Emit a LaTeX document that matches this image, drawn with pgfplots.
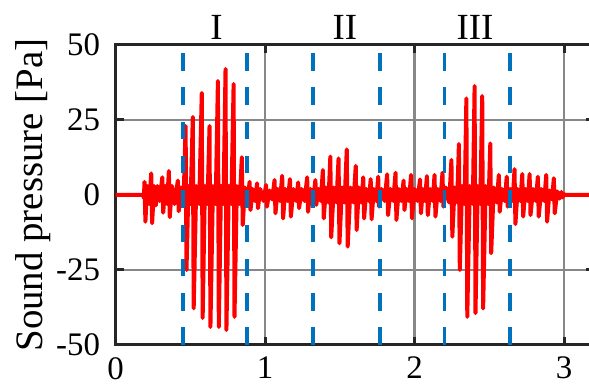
\documentclass[border=0pt]{standalone}
\usepackage{fontspec}
\setmainfont{Liberation Serif}
\usepackage{pgfplots}
\pgfplotsset{compat=1.18}
\definecolor{mblue}{RGB}{0,114,189}
\definecolor{axgray}{RGB}{38,38,38}
\definecolor{gridgray}{RGB}{135,135,135}
\begin{document}
\begin{tikzpicture}
\path[use as bounding box] (0,0) rectangle (589bp,388bp);
\clip (0,0) rectangle (589bp,388bp);
\begin{axis}[
 at={(115.5bp,43bp)}, anchor=south west,
 scale only axis, width=478.4bp, height=300bp,
 xmin=0, xmax=3.2, ymin=-50, ymax=50,
 xtick={0,1,2,3}, ytick={-50,-25,0,25,50},
 xticklabels={0,1,2,3}, yticklabels={-50,-25,0,25,50},
 tick align=inside, major tick length=8bp,
 grid=major, major grid style={gridgray, line width=2.2bp},
 axis line style={axgray, line width=3bp},
 major tick style={axgray, line width=3bp},
 tick label style={font=\fontsize{33}{38}\selectfont, text=black},
 x tick label style={yshift=-11bp, inner sep=1bp},
 y tick label style={xshift=-12bp},
 ylabel={Sound pressure [Pa]},
 ylabel style={font=\fontsize{39}{44}\selectfont, at={(axis description cs:-0.172,0.5)}, anchor=center},
 clip=false,
 /pgf/number format/assume math mode=true,
]
\addplot[red, line width=4bp, line join=round] coordinates {
(0,0) (0.185,0) (0.19,-1)
(0.194,4.4) (0.200,-8.9) (0.212,3) (0.225,-3)
(0.239,7.2) (0.245,-9.4) (0.258,3) (0.270,-3.5) (0.280,3) (0.295,-2)
(0.313,5.9) (0.319,-5.9) (0.333,3) (0.345,-3)
(0.357,8) (0.363,-7.4) (0.378,3) (0.395,-3)
(0.417,4.8) (0.423,-5.4) (0.438,2.5) (0.455,-2.5)
(0.469,23) (0.475,-25) (0.488,3) (0.502,-3)
(0.517,26) (0.523,-37.8) (0.540,3) (0.560,-3)
(0.577,34) (0.583,-41) (0.598,3) (0.615,-3)
(0.629,23) (0.635,-44) (0.652,3) (0.670,-3)
(0.685,38) (0.691,-44) (0.706,3) (0.722,-3)
(0.736,42) (0.742,-45) (0.758,3) (0.775,-3)
(0.790,37) (0.796,-40.6) (0.812,3) (0.830,-3)
(0.845,12.6) (0.851,-10) (0.866,2.5) (0.882,-2.5)
(0.897,4.4) (0.903,-5) (0.918,2) (0.933,-2)
(0.947,3.9) (0.953,-4.4) (0.968,2) (0.990,-2)
(1.007,3.3) (1.013,-3.9) (1.030,1.5) (1.048,-1.5)
(1.064,5) (1.070,-6.1) (1.085,2) (1.100,-2)
(1.115,6.4) (1.121,-7.8) (1.136,2) (1.152,-2)
(1.167,5.3) (1.173,-7.2) (1.190,2) (1.208,-2)
(1.222,4.2) (1.228,-4.4) (1.245,2) (1.265,-2)
(1.282,5.9) (1.288,-5.6) (1.305,2) (1.322,-2)
(1.337,5) (1.343,-3.3) (1.358,2) (1.373,-2)
(1.387,8.3) (1.393,-7.8) (1.408,2.5) (1.424,-2.5)
(1.437,12.8) (1.443,-14.1) (1.460,2.5) (1.478,-2.5)
(1.492,12.2) (1.498,-16.1) (1.515,2.5) (1.532,-2.5)
(1.547,15.2) (1.553,-17.2) (1.572,2.5) (1.592,-2.5)
(1.607,9.7) (1.613,-11.7) (1.628,2.5) (1.645,-2.5)
(1.657,5.9) (1.663,-7.8) (1.678,2) (1.695,-2)
(1.707,5.3) (1.713,-8.1) (1.728,2) (1.745,-2)
(1.757,6.1) (1.763,-3.9) (1.780,2) (1.800,-2)
(1.817,6.9) (1.823,-6.7) (1.840,2) (1.858,-2)
(1.873,7.4) (1.879,-8.3) (1.895,2) (1.912,-2)
(1.927,4.8) (1.933,-5) (1.948,2) (1.963,-2)
(1.977,6.7) (1.983,-7.8) (2.000,2) (2.020,-2)
(2.037,5.2) (2.043,-6.1) (2.056,2) (2.070,-2)
(2.083,6.3) (2.089,-6.7) (2.105,2) (2.122,-2)
(2.134,6.7) (2.140,-7.2) (2.156,2) (2.173,-2)
(2.187,7.4) (2.193,-3.9) (2.210,2.5) (2.232,-2.5)
(2.247,11.7) (2.253,-13.9) (2.268,2.5) (2.285,-2.5)
(2.297,17) (2.303,-25) (2.318,3) (2.335,-3)
(2.347,32.2) (2.353,-40.6) (2.370,3) (2.390,-3)
(2.402,36.3) (2.408,-39.4) (2.423,3) (2.440,-3)
(2.453,33) (2.459,-37.8) (2.476,3) (2.495,-3)
(2.507,17.2) (2.513,-19.4) (2.530,2.5) (2.550,-2.5)
(2.564,6.7) (2.570,-5.6) (2.585,2) (2.603,-2)
(2.617,6.1) (2.623,-3.9) (2.640,2) (2.657,-2)
(2.669,8.6) (2.675,-9.7) (2.690,2) (2.708,-2)
(2.721,7) (2.727,-7.2) (2.742,2) (2.758,-2)
(2.770,7) (2.776,-6.7) (2.793,2) (2.812,-2)
(2.825,6.1) (2.831,-7.2) (2.848,2) (2.868,-2)
(2.881,6.7) (2.887,-8.9) (2.903,1.5) (2.920,-1.5)
(2.932,5.6) (2.938,-6.1) (2.955,1.2) (2.970,-1.2)
(2.983,1) (2.990,-0.8) (3.000,0.3) (3.010,0) (3.2,0)
};
\addplot[mblue, line width=3.5bp, line cap=butt, dash pattern=on 17.5bp off 16.8bp] coordinates {(0.45,-50) (0.45,50)};
\addplot[mblue, line width=3.5bp, line cap=butt, dash pattern=on 17.5bp off 16.8bp] coordinates {(0.88,-50) (0.88,50)};
\addplot[mblue, line width=3.5bp, line cap=butt, dash pattern=on 17.5bp off 16.8bp] coordinates {(1.32,-50) (1.32,50)};
\addplot[mblue, line width=3.5bp, line cap=butt, dash pattern=on 17.5bp off 16.8bp] coordinates {(1.77,-50) (1.77,50)};
\addplot[mblue, line width=3.5bp, line cap=butt, dash pattern=on 17.5bp off 16.8bp] coordinates {(2.20,-50) (2.20,50)};
\addplot[mblue, line width=3.5bp, line cap=butt, dash pattern=on 17.5bp off 16.8bp] coordinates {(2.64,-50) (2.64,50)};
\node[anchor=base, font=\fontsize{37}{44}\selectfont] at (axis cs:0.675,51.9) {I};
\node[anchor=base, font=\fontsize{37}{44}\selectfont] at (axis cs:1.535,51.9) {II};
\node[anchor=base, font=\fontsize{37}{44}\selectfont] at (axis cs:2.405,51.9) {III};
\end{axis}
\end{tikzpicture}
\end{document}
